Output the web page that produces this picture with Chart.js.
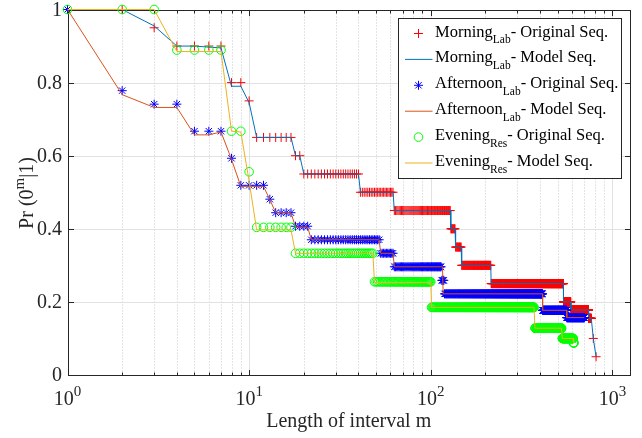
<!DOCTYPE html>
<html>
<head>
<meta charset="utf-8">
<script src="https://cdn.jsdelivr.net/npm/chart.js@4.4.0/dist/chart.umd.min.js"></script>
<style>
  html, body { margin: 0; padding: 0; background: #fff; }
  #wrap { width: 642px; height: 438px; }
</style>
</head>
<body>
<div id="wrap"><canvas id="chart" width="642" height="438"></canvas></div>
<script>
// Values.
// Measured sequences: runs of [first m, last m, probability], one point per integer m.
const morningStart = [1, 3, 4, 8, 10, 11, 18, 20, 41, 63, 129, 137, 148, 215, 538, 591, 740, 785, 813];
const morningEnd   = [2, 3, 7, 9, 10, 17, 19, 40, 62, 128, 136, 147, 214, 537, 590, 739, 765, 785, 813];
const morningVal   = [1, 0.95, 0.9, 0.8, 0.75, 0.65, 0.6, 0.55, 0.5, 0.45, 0.4, 0.35, 0.3, 0.25, 0.2, 0.178, 0.155, 0.1, 0.05];

const afternoonStart = [1, 2, 3, 5, 8, 9, 13, 14, 18, 22, 53, 63, 115, 119, 413, 561];
const afternoonEnd   = [1, 2, 4, 7, 8, 12, 13, 17, 21, 52, 62, 114, 118, 412, 560, 700];
const afternoonVal   = [1, 0.778, 0.741, 0.667, 0.593, 0.519, 0.481, 0.444, 0.407, 0.37, 0.333, 0.296, 0.259, 0.222, 0.177, 0.157];

const eveningStart = [1, 4, 8, 10, 11, 18, 49, 101, 375, 530, 610];
const eveningEnd   = [3, 7, 9, 10, 17, 48, 100, 370, 525, 608, 614];
const eveningVal   = [1, 0.889, 0.667, 0.556, 0.404, 0.333, 0.255, 0.185, 0.128, 0.1, 0.088];

// Model curves: breakpoints (m, probability)
const morningModelM = [1, 2, 3, 4, 5, 6, 7, 8, 9, 10, 11, 17, 18, 19, 20, 40, 41, 62, 63, 128, 129, 136, 137, 147, 148, 214, 215, 537, 538, 590, 591, 739, 740, 765, 785, 813];
const morningModelP = [1, 1, 0.955, 0.9, 0.9, 0.897, 0.895, 0.79, 0.79, 0.745, 0.65, 0.65, 0.6, 0.6, 0.55, 0.55, 0.5, 0.5, 0.45, 0.45, 0.4, 0.4, 0.35, 0.35, 0.3, 0.3, 0.25, 0.25, 0.2, 0.2, 0.178, 0.178, 0.155, 0.155, 0.1, 0.05];

const afternoonModelM = [1, 2, 3, 4, 5, 6, 7, 8, 9, 12, 13, 14, 17, 18, 21, 22, 52, 53, 62, 63, 116, 117, 412, 413, 560, 561, 700];
const afternoonModelP = [1, 0.767, 0.732, 0.732, 0.657, 0.657, 0.665, 0.59, 0.516, 0.516, 0.48, 0.444, 0.444, 0.405, 0.405, 0.37, 0.37, 0.333, 0.333, 0.296, 0.296, 0.222, 0.222, 0.177, 0.177, 0.157, 0.157];

const eveningModelM = [1, 3, 4, 7, 8, 9, 10, 11, 17, 18, 48, 49, 100, 101, 370, 375, 525, 530, 608, 610, 614];
const eveningModelP = [1, 1, 0.885, 0.885, 0.667, 0.665, 0.53, 0.397, 0.397, 0.333, 0.333, 0.253, 0.253, 0.185, 0.185, 0.128, 0.128, 0.1, 0.1, 0.088, 0.088];

// Axes
const xTickValues = [1, 10, 100, 1000];
const xTickExp = ['0', '1', '2', '3'];
const yTickValues = [0, 0.2, 0.4, 0.6, 0.8, 1];
const yTickLabels = ['0', '0.2', '0.4', '0.6', '0.8', '1'];
const xTitle = 'Length of interval m';

// Legend
const legendNames = ['Morning', 'Morning', 'Afternoon', 'Afternoon', 'Evening', 'Evening'];
const legendSubs = ['Lab', 'Lab', 'Lab', 'Lab', 'Res', 'Res'];
const legendTails = ['- Original Seq.', '- Model Seq.', '- Original Seq.', '- Model Seq.', '- Original Seq.', '- Model Seq.'];

const SERIF = '"Liberation Serif", "Times New Roman", serif';
const AXIS_COLOR = '#262626';

function expandRuns(starts, ends, vals) {
  const pts = [];
  starts.forEach((s, i) => {
    for (let m = s; m <= ends[i]; m++) pts.push({ x: m, y: vals[i] });
  });
  return pts;
}

function pairs(ms, ps) {
  return ms.map((m, i) => ({ x: m, y: ps[i] }));
}

function seg(ctx, x1, y1, x2, y2) {
  ctx.beginPath();
  ctx.moveTo(x1, y1);
  ctx.lineTo(x2, y2);
  ctx.stroke();
}

function drawMarker(ctx, style, color, x, y, r) {
  ctx.save();
  ctx.strokeStyle = color;
  ctx.lineWidth = 1;
  if (style === 'cross' || style === 'star') {
    seg(ctx, x - r, y, x + r, y);
    seg(ctx, x, y - r, x, y + r);
  }
  if (style === 'star') {
    const d = r * Math.SQRT1_2;
    seg(ctx, x - d, y - d, x + d, y + d);
    seg(ctx, x - d, y + d, x + d, y - d);
  }
  if (style === 'circle') {
    ctx.beginPath();
    ctx.arc(x, y, r, 0, Math.PI * 2);
    ctx.stroke();
  }
  ctx.restore();
}

const legendStyle = [
  { marker: 'cross', color: '#ff0000', r: 4.5 },
  { line: '#0072BD' },
  { marker: 'star', color: '#0000ff', r: 4.5 },
  { line: '#D95319' },
  { marker: 'circle', color: '#00ff00', r: 4.3 },
  { line: '#EDB120' }
];

const matlabAxes = {
  id: 'matlabAxes',
  beforeDatasetsDraw(chart) {
    const { ctx, chartArea: a } = chart;
    const xs = chart.scales.x, ys = chart.scales.y;
    const L = Math.round(a.left) + 0.5, R = Math.round(a.right) + 0.5;
    const T = Math.round(a.top) + 0.5, B = Math.round(a.bottom) + 0.5;
    ctx.save();
    ctx.lineWidth = 1;

    // minor x grid, dotted
    const minor = [];
    for (let d = 0; d < 4; d++) {
      for (let k = 2; k <= 9; k++) {
        const v = k * Math.pow(10, d);
        if (v < xs.max) minor.push(v);
      }
    }
    ctx.strokeStyle = 'rgba(38,38,38,0.25)';
    ctx.setLineDash([1, 2]);
    minor.forEach(v => {
      const px = Math.round(xs.getPixelForValue(v)) + 0.5;
      seg(ctx, px, T, px, B);
    });
    ctx.setLineDash([]);

    // major grid
    ctx.strokeStyle = '#e2e2e2';
    xTickValues.forEach(v => {
      const px = Math.round(xs.getPixelForValue(v)) + 0.5;
      if (px > L + 1 && px < R - 1) seg(ctx, px, T, px, B);
    });
    yTickValues.forEach(v => {
      const py = Math.round(ys.getPixelForValue(v)) + 0.5;
      if (py > T + 1 && py < B - 1) seg(ctx, L, py, R, py);
    });

    // box
    ctx.strokeStyle = AXIS_COLOR;
    ctx.strokeRect(L, T, R - L, B - T);

    // inward ticks
    minor.forEach(v => {
      const px = Math.round(xs.getPixelForValue(v)) + 0.5;
      seg(ctx, px, B, px, B - 3);
      seg(ctx, px, T, px, T + 3);
    });
    xTickValues.forEach(v => {
      const px = Math.round(xs.getPixelForValue(v)) + 0.5;
      seg(ctx, px, B, px, B - 5.5);
      seg(ctx, px, T, px, T + 5.5);
    });
    yTickValues.forEach(v => {
      const py = Math.round(ys.getPixelForValue(v)) + 0.5;
      seg(ctx, L, py, L + 5.5, py);
      seg(ctx, R, py, R - 5.5, py);
    });
    ctx.restore();
  },
  afterDraw(chart) {
    const { ctx, chartArea: a } = chart;
    const xs = chart.scales.x, ys = chart.scales.y;
    ctx.save();
    ctx.fillStyle = AXIS_COLOR;

    // x tick labels 10^k
    ctx.textAlign = 'left';
    ctx.textBaseline = 'alphabetic';
    xTickValues.forEach((v, i) => {
      const px = xs.getPixelForValue(v);
      ctx.font = '20px ' + SERIF;
      const wb = ctx.measureText('10').width;
      ctx.font = '15px ' + SERIF;
      const we = ctx.measureText(xTickExp[i]).width;
      const x0 = px - (wb + we) / 2;
      ctx.font = '20px ' + SERIF;
      ctx.fillText('10', x0, 405);
      ctx.font = '15px ' + SERIF;
      ctx.fillText(xTickExp[i], x0 + wb, 396);
    });

    // y tick labels
    ctx.font = '20px ' + SERIF;
    ctx.textAlign = 'right';
    ctx.textBaseline = 'middle';
    yTickValues.forEach((v, i) => {
      ctx.fillText(yTickLabels[i], a.left - 5.5, ys.getPixelForValue(v) + 1);
    });

    // x title
    ctx.textAlign = 'center';
    ctx.textBaseline = 'alphabetic';
    ctx.fillText(xTitle, (a.left + a.right) / 2, 427);

    // y title: Pr (0^m|1)
    ctx.save();
    ctx.translate(33, 193);
    ctx.rotate(-Math.PI / 2);
    ctx.textAlign = 'left';
    ctx.font = '20px ' + SERIF;
    const w1 = ctx.measureText('Pr (0').width;
    const w3 = ctx.measureText('|1)').width;
    ctx.font = '15px ' + SERIF;
    const w2 = ctx.measureText('m').width;
    let tx = -(w1 + w2 + w3) / 2;
    ctx.font = '20px ' + SERIF;
    ctx.fillText('Pr (0', tx, 0);
    tx += w1;
    ctx.font = '15px ' + SERIF;
    ctx.fillText('m', tx, -9);
    tx += w2;
    ctx.font = '20px ' + SERIF;
    ctx.fillText('|1)', tx, 0);
    ctx.restore();

    // legend
    const bx = 398.5, by = 18.5, bw = 223, bh = 160;
    ctx.fillStyle = '#ffffff';
    ctx.fillRect(bx, by, bw, bh);
    ctx.strokeStyle = AXIS_COLOR;
    ctx.lineWidth = 1;
    ctx.strokeRect(bx, by, bw, bh);
    ctx.fillStyle = '#000000';
    ctx.textAlign = 'left';
    legendNames.forEach((name, i) => {
      const cy = 33.5 + i * 25.9;
      const st = legendStyle[i];
      if (st.marker) {
        drawMarker(ctx, st.marker, st.color, 418.5, cy, st.r);
      } else {
        ctx.strokeStyle = st.line;
        ctx.lineWidth = 1;
        seg(ctx, 405, cy, 432.5, cy);
      }
      let x = 435;
      ctx.font = '16.5px ' + SERIF;
      ctx.fillText(name, x, cy + 3);
      x += ctx.measureText(name).width;
      ctx.font = '11.5px ' + SERIF;
      ctx.fillText(legendSubs[i], x, cy + 9.5);
      x += ctx.measureText(legendSubs[i]).width;
      ctx.font = '16.5px ' + SERIF;
      ctx.fillText(legendTails[i], x, cy + 3);
    });
    ctx.restore();
  }
};

const markerSet = (data, style, color, r, order) => ({
  data, showLine: false, pointStyle: style, pointRadius: r,
  pointBorderColor: color, pointBackgroundColor: 'rgba(0,0,0,0)',
  pointBorderWidth: 1, clip: false, order
});
const lineSet = (data, color, order) => ({
  data, showLine: true, borderColor: color, borderWidth: 1,
  pointRadius: 0, tension: 0, fill: false, clip: false, order
});

new Chart(document.getElementById('chart'), {
  type: 'scatter',
  data: {
    datasets: [
      markerSet(expandRuns(morningStart, morningEnd, morningVal), 'cross', '#ff0000', 4.5, 6),
      lineSet(pairs(morningModelM, morningModelP), '#0072BD', 5),
      markerSet(expandRuns(afternoonStart, afternoonEnd, afternoonVal), 'star', '#0000ff', 4.5, 4),
      lineSet(pairs(afternoonModelM, afternoonModelP), '#D95319', 3),
      markerSet(expandRuns(eveningStart, eveningEnd, eveningVal), 'circle', '#00ff00', 4.3, 2),
      lineSet(pairs(eveningModelM, eveningModelP), '#EDB120', 1)
    ]
  },
  options: {
    responsive: false,
    animation: false,
    devicePixelRatio: 1,
    events: [],
    layout: { padding: { left: 67.5, right: 12, top: 9.5, bottom: 63 } },
    plugins: { legend: { display: false }, tooltip: { enabled: false } },
    scales: {
      x: { type: 'logarithmic', min: 1, max: 1250, display: false },
      y: { type: 'linear', min: 0, max: 1, display: false }
    }
  },
  plugins: [matlabAxes]
});
</script>
</body>
</html>
